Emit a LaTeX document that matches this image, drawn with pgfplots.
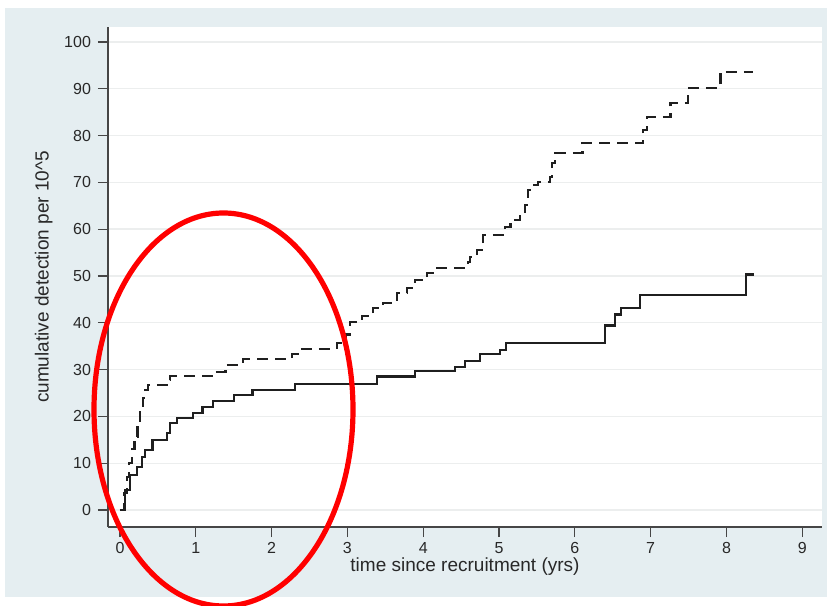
\documentclass[border=0pt]{standalone}
\usepackage{fontspec}
\setmainfont{Liberation Sans}
\usepackage{pgfplots}
\pgfplotsset{compat=1.18}
\definecolor{panel}{RGB}{229,238,241}
\definecolor{gridc}{RGB}{236,238,238}
\definecolor{axc}{RGB}{70,70,70}
\definecolor{txt}{RGB}{40,40,40}
\begin{document}
\begin{tikzpicture}
\useasboundingbox (-54pt,-39.5pt) rectangle (359.5pt,263.5pt);
\fill[panel] (-51.5pt,-35pt) rectangle (359.5pt,259.5pt);
\begin{axis}[
  at={(0,0)}, anchor=south west,
  scale only axis, width=357pt, height=250pt,
  xmin=-0.158, xmax=9.26, ymin=-3.63, ymax=103.2,
  axis background/.style={fill=white},
  axis x line*=bottom, axis y line*=left,
  axis line style={draw=axc, line width=0.6pt},
  xtick={0,...,9}, ytick={0,10,...,100},
  tick style={draw=axc, line width=0.6pt},
  tick align=outside, major tick length=5pt,
  ymajorgrids, grid style={draw=gridc, line width=0.7pt},
  every tick label/.style={font=\fontsize{8}{9}\selectfont, text=txt},
  xticklabel style={yshift=1pt},
  /pgf/number format/assume math mode=true,
  xlabel={time since recruitment (yrs)},
  ylabel={cumulative detection per 10\^{}5},
  label style={font=\fontsize{9.5}{10}\selectfont, text=txt},
  xlabel style={yshift=4.5pt},
  ylabel style={yshift=-1pt},
  clip=false,
]
\addplot[const plot mark left, draw=black!88, line width=1.15pt] coordinates {
(0,0) (0.066,4.3) (0.13,7.5) (0.22,9.2) (0.29,11.3) (0.33,12.8) (0.43,15.0)
(0.62,16.4) (0.66,18.6) (0.75,19.7) (0.96,20.8) (1.09,22.0) (1.23,23.3)
(1.50,24.6) (1.75,25.6) (2.31,26.9) (3.39,28.5) (3.89,29.7) (4.42,30.6)
(4.55,31.8) (4.75,33.3) (5.01,34.2) (5.09,35.7) (6.40,39.4) (6.53,41.8)
(6.61,43.2) (6.86,46.0) (8.26,50.3) (8.36,50.3)
};
\addplot[const plot mark left, draw=black!88, line width=1.15pt, dash pattern=on 5.5pt off 3.5pt] coordinates {
(0,0) (0.05,3.6) (0.09,7) (0.12,10) (0.16,13) (0.19,15.6) (0.23,18.5)
(0.26,21.4) (0.30,24) (0.33,25.6) (0.37,26.7) (0.62,27.8) (0.66,28.6)
(1.25,29.5) (1.39,31.0) (1.62,32.2) (2.27,33.3) (2.37,34.4) (2.86,35.7)
(2.98,37.5) (3.03,40.2) (3.19,41.5) (3.34,43.2) (3.47,44.2) (3.65,46.4)
(3.79,47.4) (3.89,49.1) (4.05,50.6) (4.18,51.7) (4.59,53.0) (4.62,54.1)
(4.71,55.6) (4.79,58.8) (5.08,60.5) (5.15,62.0) (5.28,63.0) (5.34,65.2)
(5.38,68.4) (5.44,69.4) (5.51,70.1) (5.67,71.2) (5.70,74.1) (5.74,76.3)
(6.10,78.4) (6.90,81.2) (6.95,84.0) (7.26,87.0) (7.49,90.2) (7.92,93.6)
(8.35,93.6)
};
\end{axis}
\draw[red, line width=2.6pt] (57.75pt,58.75pt) ellipse [x radius=64.75pt, y radius=98.25pt];
\end{tikzpicture}
\end{document}
